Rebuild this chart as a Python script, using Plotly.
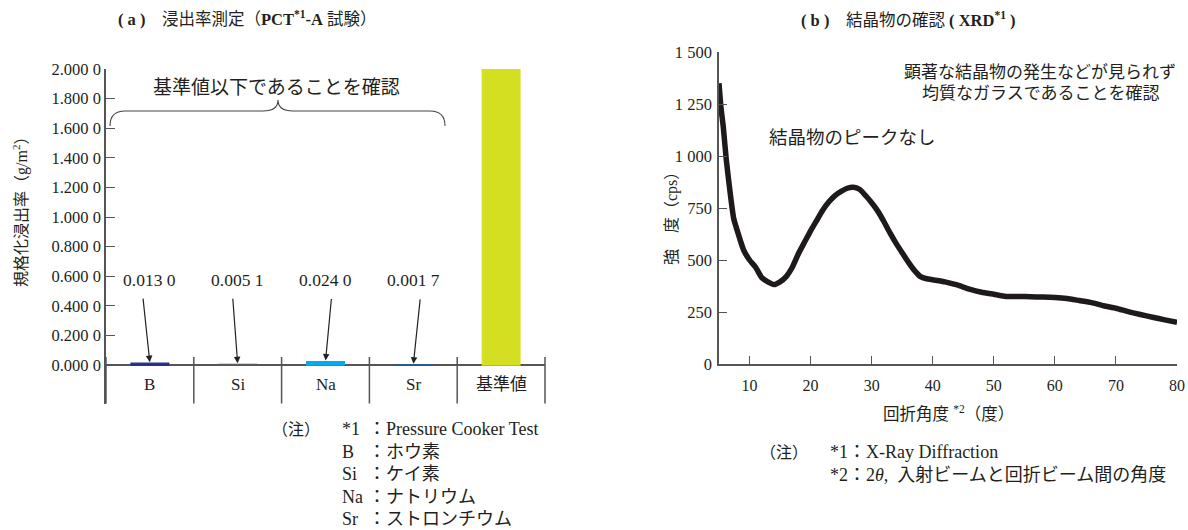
import plotly.graph_objects as go

# ---------------- data ----------------
# (a) leaching test
elements = ["B", "Si", "Na", "Sr", "基準値"]
leach_values = [0.0130, 0.0051, 0.0240, 0.0017, 2.0]
bar_colors = ["#232d82", "#5a5a5a", "#00aeef", "#1b5e9e", "#d5df22"]
left_ticks = [0.0, 0.2, 0.4, 0.6, 0.8, 1.0, 1.2, 1.4, 1.6, 1.8, 2.0]

# (b) XRD pattern
two_theta = [5.0, 5.3, 5.7, 6.2, 6.8, 7.4, 8.0, 9.0, 10.0, 11.0, 12.0, 13.0, 14.0,
             15.0, 16.0, 17.0, 18.0, 19.0, 20.0, 21.0, 22.0, 23.0, 24.0, 25.0, 26.0,
             27.0, 28.0, 29.0, 30.0, 31.0, 32.0, 33.0, 34.0, 35.0, 36.0, 37.0, 38.0,
             39.0, 40.0, 42.0, 44.0, 46.0, 48.0, 50.0, 52.0, 54.0, 56.0, 58.0, 60.0,
             62.0, 64.0, 66.0, 68.0, 70.0, 72.0, 74.0, 76.0, 78.0, 80.0]
intensity = [1350, 1240, 1140, 980, 830, 700, 640, 550, 500, 465, 415, 395, 382,
             395, 420, 465, 530, 585, 640, 690, 740, 780, 810, 830, 845,
             850, 840, 810, 775, 735, 685, 630, 580, 535, 490, 450, 420,
             410, 405, 395, 380, 360, 345, 335, 325, 325, 323, 322, 320,
             315, 305, 295, 280, 268, 252, 238, 225, 212, 200]
right_yticks = [0, 250, 500, 750, 1000, 1250, 1500]
right_xticks = [10, 20, 30, 40, 50, 60, 70, 80]

W, H = 1188, 530
SERIF = "Liberation Serif, Noto Sans CJK JP, serif"
TXT = "#231f20"
AX = "#555555"


def px(x):
    return x / W


def py(y):
    return 1 - y / H


def fmt4(v):
    s = f"{v:.4f}"
    return s[:-1] + " " + s[-1]


def note(x, y, text, size=16, xanchor="center", **kw):
    d = dict(x=px(x), y=py(y), xref="paper", yref="paper", showarrow=False,
             xanchor=xanchor, yanchor="middle", text=text, font=dict(size=size))
    d.update(kw)
    return d


fig = go.Figure()

# ---- (a) bars ----
fig.add_trace(go.Bar(
    x=elements, y=leach_values, marker_color=bar_colors,
    marker_line_color=bar_colors, marker_line_width=1.2,
    width=0.43, xaxis="x", yaxis="y", showlegend=False,
))

# ---- (b) XRD line ----
fig.add_trace(go.Scatter(
    x=two_theta, y=intensity, mode="lines",
    line=dict(color="#1e1a1b", width=5.5, shape="spline", smoothing=0.5),
    xaxis="x2", yaxis="y2", showlegend=False,
))

fig.update_layout(
    width=W, height=H, margin=dict(l=0, r=0, t=0, b=0, pad=0, autoexpand=False),
    paper_bgcolor="white", plot_bgcolor="white",
    font=dict(family=SERIF, size=15, color=TXT),
    xaxis=dict(domain=[px(106), px(545)], showline=False, showticklabels=False,
               ticks="", showgrid=False, zeroline=False, fixedrange=True),
    yaxis=dict(domain=[py(403.5), py(69)], range=[-0.2595, 2.0],
               tickvals=left_ticks, ticktext=[fmt4(v) for v in left_ticks],
               ticks="inside", ticklen=9, tickcolor=AX, tickwidth=1.2,
               showline=True, linecolor=AX, linewidth=1.5,
               showgrid=False, zeroline=True, zerolinecolor=AX, zerolinewidth=1.5,
               tickfont=dict(size=16.5, family=SERIF)),
    xaxis2=dict(domain=[px(719), px(1177)], range=[5, 80], anchor="y2",
                tickvals=right_xticks, ticks="inside", ticklen=8, tickcolor=AX,
                showline=True, linecolor=AX, linewidth=1.5, showgrid=False,
                zeroline=False, ticklabelstandoff=6,
                tickfont=dict(size=16, family=SERIF)),
    yaxis2=dict(domain=[py(364), py(52)], range=[0, 1500], anchor="x2",
                tickvals=right_yticks,
                ticktext=[f"{v:,}".replace(",", " ") for v in right_yticks],
                ticks="inside", ticklen=8, tickcolor=AX,
                showline=True, linecolor=AX, linewidth=1.5, showgrid=False,
                zeroline=False, ticklabelstandoff=2,
                tickfont=dict(size=16.5, family=SERIF)),
)

shapes = []
# category separators for the (a) table
for i in range(len(elements) + 1):
    shapes.append(dict(type="line", xref="x domain", yref="paper",
                       x0=i / len(elements), x1=i / len(elements),
                       y0=py(357), y1=py(403.5),
                       line=dict(color=AX, width=1.5)))
# curly brace
bx0, bx1, bxm, by0, by1, bym = 110, 445, 278, 126, 111, 100
pts = [(bx0, by0), (bx0, by1), (bx0 + 15, by1), (bxm - 15, by1), (bxm, by1), (bxm, bym),
       (bxm, by1), (bxm + 15, by1), (bx1 - 15, by1), (bx1, by1), (bx1, by0)]
P = [f"{px(a):.5f},{py(b):.5f}" for a, b in pts]
path = (f"M {P[0]} Q {P[1]} {P[2]} L {P[3]} Q {P[4]} {P[5]} "
        f"Q {P[6]} {P[7]} L {P[8]} Q {P[9]} {P[10]}")
shapes.append(dict(type="path", xref="paper", yref="paper", path=path,
                   line=dict(color="#444444", width=1.1)))
fig.update_layout(shapes=shapes)

ann = []
# titles
ann.append(note(247, 19, "<b>( a )</b>　浸出率測定（<b>PCT<sup>*1</sup>-A</b> 試験）", 16.5))
ann.append(note(908, 20, "<b>( b )</b>　結晶物の確認 <b>( XRD<sup>*1</sup> )</b>", 16.5))
# axis titles
ann.append(note(20, 208, "規格化浸出率（g/m<sup>2</sup>）", 16, textangle=-90))
ann.append(note(672, 215, "強　度（cps）", 16, textangle=-90))
ann.append(note(948, 413, "回折角度 <sup>*2</sup>（度）", 16.5))
# category labels
for e in elements:
    ann.append(dict(x=e, y=-0.13, xref="x", yref="y", showarrow=False, text=e,
                    xanchor="center", yanchor="middle", font=dict(size=17)))
# value labels and arrows
arrow_off = [(-7, -66), (-5, -67), (6, -64), (7, -67)]
for e, v, (ax, ay) in zip(elements[:4], leach_values[:4], arrow_off):
    ann.append(dict(x=e, y=0.574, xref="x", yref="y", showarrow=False,
                    xanchor="center", yanchor="middle",
                    text=fmt4(v), font=dict(size=17.5)))
    ann.append(dict(x=e, y=v, xref="x", yref="y", showarrow=True, text="",
                    ax=ax, ay=ay, arrowhead=2, arrowsize=1.1, arrowwidth=1.2,
                    arrowcolor="#222222", standoff=1))
# brace text
ann.append(note(276, 88, "基準値以下であることを確認", 19))
# right annotations
ann.append(note(1040, 73, "顕著な結晶物の発生などが見られず", 17))
ann.append(note(1041, 94, "均質なガラスであることを確認", 17))
ann.append(note(852, 138, "結晶物のピークなし", 18.5))
# notes (a)
ann.append(note(270, 429, "（注）", 16, xanchor="left"))
notes_a_keys = ["*1", "B", "Si", "Na", "Sr"]
notes_a_vals = ["：Pressure Cooker Test", "：ホウ素", "：ケイ素", "：ナトリウム", "：ストロンチウム"]
for i, (k, v) in enumerate(zip(notes_a_keys, notes_a_vals)):
    yy = 429 + 22.5 * i
    ann.append(note(340, yy, k, 18, xanchor="left"))
    ann.append(note(366, yy, v, 18, xanchor="left"))
# notes (b)
ann.append(note(758, 452, "（注）", 16, xanchor="left"))
notes_b = ["*1：X-Ray Diffraction", "*2：2<i>θ</i>,  入射ビームと回折ビーム間の角度"]
for i, t in enumerate(notes_b):
    ann.append(note(828, 452 + 23 * i, t, 18, xanchor="left"))

fig.update_layout(annotations=ann)

POST = ("document.documentElement.style.margin='0';"
        "document.body.style.margin='0';"
        "document.documentElement.style.overflow='hidden';"
        "document.body.style.overflow='hidden';")
fig.write_html("out.html", post_script=POST, config={"displayModeBar": False})
